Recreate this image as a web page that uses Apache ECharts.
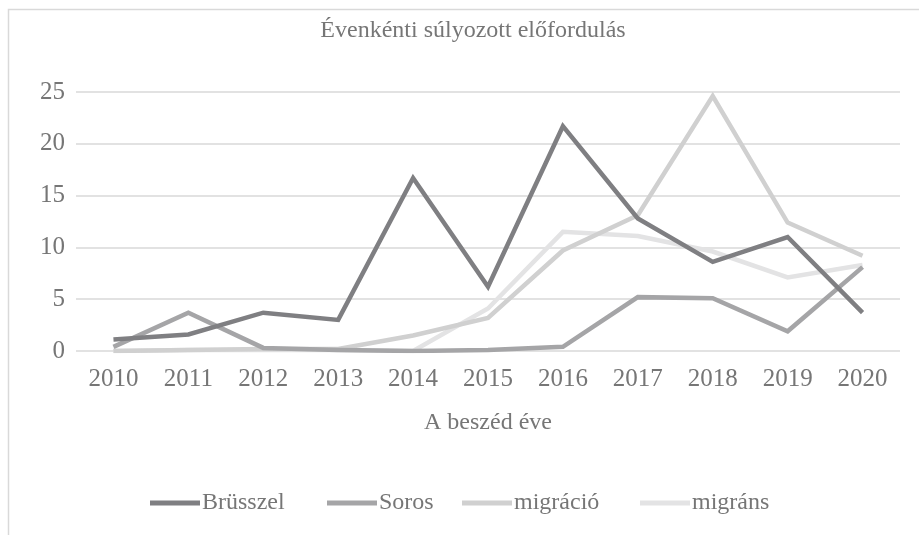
<!DOCTYPE html>
<html>
<head>
<meta charset="utf-8">
<script src="https://cdn.jsdelivr.net/npm/echarts@6/dist/echarts.min.js"></script>
<style>
  html, body { margin: 0; padding: 0; background: #fff; }
  #chart { width: 919px; height: 535px; }
</style>
</head>
<body>
<div id="chart"></div>
<script>
// évek
const years = ['2010', '2011', '2012', '2013', '2014', '2015', '2016', '2017', '2018', '2019', '2020'];
const seriesNames = ['Brüsszel', 'Soros', 'migráció', 'migráns'];
const brusszel = [1.1, 1.6, 3.7, 3.0, 16.7, 6.2, 21.7, 12.8, 8.6, 11.0, 3.7];
const soros = [0.4, 3.7, 0.3, 0.1, 0.0, 0.1, 0.4, 5.2, 5.1, 1.9, 8.1];
const migracio = [0.0, 0.1, 0.2, 0.2, 1.5, 3.2, 9.7, 13.1, 24.6, 12.4, 9.2];
const migrans = [0.0, 0.1, 0.1, 0.1, 0.0, 4.1, 11.5, 11.1, 9.6, 7.1, 8.3];

const colors = ['#7f7f82', '#a5a5a7', '#d0d0d0', '#e3e3e4'];
const serif = 'Liberation Serif';
const txt = '#767676';
// jelmagyarázat helye (bal szél)
const legendLeft = [150, 327, 462, 640];

const chart = echarts.init(document.getElementById('chart'));

const mkLine = (name, data, i) => ({
  name: name,
  type: 'line',
  data: data,
  symbol: 'none',
  z: 10 - i,
  lineStyle: { width: 4.5, color: colors[i], join: 'miter' },
  itemStyle: { color: colors[i] }
});

const legends = seriesNames.map((name, i) => ({
  top: 491,
  left: legendLeft[i],
  padding: 0,
  icon: 'rect',
  itemWidth: 50,
  itemHeight: 5,
  data: [name],
  textStyle: { fontFamily: serif, fontSize: 24, color: txt, padding: [0, 0, 0, -3] }
}));

chart.setOption({
  animation: false,
  backgroundColor: '#fff',
  title: {
    text: 'Évenkénti súlyozott előfordulás',
    left: 468,
    textAlign: 'center',
    top: 14,
    textStyle: { fontFamily: serif, fontSize: 24, fontWeight: 'normal', color: txt }
  },
  // keret
  graphic: [{
    type: 'polyline',
    shape: { points: [[919, 9.5], [8.5, 9.5], [8.5, 535]] },
    style: { stroke: '#d9d9d9', lineWidth: 1.5, fill: null },
    silent: true
  }],
  legend: legends,
  grid: { left: 76, right: 19, top: 92, bottom: 184 },
  xAxis: {
    type: 'category',
    data: years,
    name: 'A beszéd éve',
    nameLocation: 'middle',
    nameGap: 60,
    nameTextStyle: { fontFamily: serif, fontSize: 24, color: txt },
    axisLine: { show: false },
    axisTick: { show: false },
    axisLabel: { fontFamily: serif, fontSize: 25, color: txt, margin: 16 }
  },
  yAxis: {
    type: 'value',
    min: 0,
    max: 25,
    interval: 5,
    axisLine: { show: false },
    axisTick: { show: false },
    axisLabel: { fontFamily: serif, fontSize: 25, color: txt, margin: 11 },
    splitLine: { lineStyle: { color: '#d9d9d9', width: 1.5 } }
  },
  series: [
    mkLine(seriesNames[0], brusszel, 0),
    mkLine(seriesNames[1], soros, 1),
    mkLine(seriesNames[2], migracio, 2),
    mkLine(seriesNames[3], migrans, 3)
  ]
});
</script>
</body>
</html>
